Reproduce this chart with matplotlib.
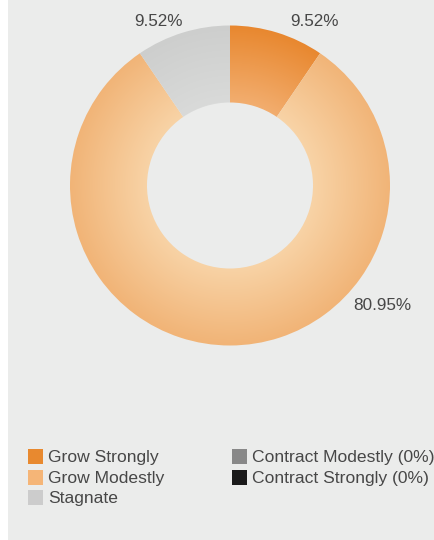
import numpy as np
import matplotlib
matplotlib.use("Agg")
import matplotlib.pyplot as plt
from matplotlib.patches import Rectangle
from matplotlib.colors import to_rgb

categories = ["Grow Strongly", "Grow Modestly", "Stagnate",
              "Contract Modestly (0%)", "Contract Strongly (0%)"]
values = [9.52, 80.95, 9.52, 0.0, 0.0]
label_texts = ["9.52%", "80.95%", "9.52%", "", ""]

base_colors = ["#e8872e", "#f1b477", "#cdcecd", "#888888", "#1a1a1a"]
inner_colors = ["#f2ad6e", "#f8d3a6", "#d9dad9", "#999999", "#333333"]
legend_colors = ["#e8892f", "#f5b577", "#cccccc", "#888888", "#1a1a1a"]

W, H = 435, 540

def py(ypx):
    return H - ypx

fig = plt.figure(figsize=(W / 100, H / 100), dpi=100)
fig.patch.set_facecolor("white")
ax = fig.add_axes([0, 0, 1, 1])
ax.axis("off")

cx, cy = 230, py(185.5)
R_out, R_in = 160, 83

wedges, _ = ax.pie(values, center=(cx, cy), radius=R_out, startangle=90,
                   counterclock=False, colors=base_colors,
                   wedgeprops=dict(width=R_out - R_in, linewidth=0))
for w in wedges:
    w.set_zorder(1)

ax.add_patch(Rectangle((8, 0), W - 8, H, facecolor="#ebeceb", edgecolor="none", zorder=0))

# radial gradient fill for each wedge
yy, xx = np.mgrid[cy - R_out - 2:cy + R_out + 2:1.0, cx - R_out - 2:cx + R_out + 2:1.0]
rr = np.hypot(xx - cx, yy - cy)
t = np.clip((rr - R_in) / (R_out - R_in), 0, 1)[..., None]
extent = (cx - R_out - 2, cx + R_out + 2, cy - R_out - 2, cy + R_out + 2)
for w, v, bc, ic in zip(wedges, values, base_colors, inner_colors):
    if v <= 0:
        continue
    img = np.array(to_rgb(ic)) * (1 - t) + np.array(to_rgb(bc)) * t
    im = ax.imshow(img, extent=extent, origin="lower", zorder=2,
                   interpolation="bilinear", aspect="auto")
    im.set_clip_path(w)
    w.set_facecolor("none")

# data labels (layout positions in px)
label_pos = [(290, 21.5, "left"), (353, 306, "left"), (183, 21.5, "right"), None, None]
for txt, pos in zip(label_texts, label_pos):
    if pos is None or not txt:
        continue
    x, y, ha = pos
    ax.text(x, py(y), txt, ha=ha, va="center", fontsize=12.3, color="#474747",
            family="Liberation Sans", zorder=5)

# legend
leg_pos = [(28, 456.5), (28, 477), (28, 497.5), (232, 456.5), (232, 477)]
for cat, col, (lx, ly) in zip(categories, legend_colors, leg_pos):
    ax.add_patch(Rectangle((lx, py(ly + 7.5)), 15, 15, facecolor=col,
                           edgecolor="none", zorder=5))
    ax.text(lx + 20, py(ly + 1), cat, ha="left", va="center", fontsize=12.6,
            color="#474747", family="Liberation Sans", zorder=5)

ax.set_aspect("auto")
ax.set_xlim(0, W)
ax.set_ylim(0, H)

fig.savefig("out.png", dpi=100, facecolor=fig.get_facecolor())
